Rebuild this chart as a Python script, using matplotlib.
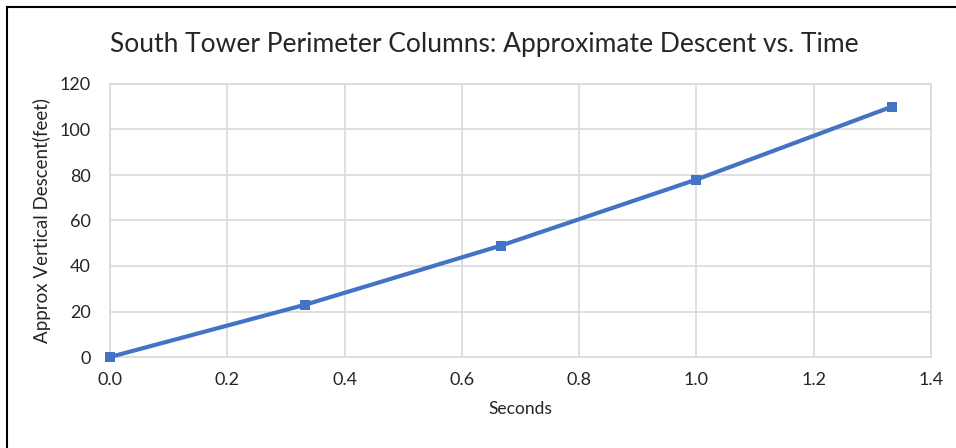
import matplotlib
matplotlib.use("Agg")
import matplotlib.pyplot as plt
from matplotlib.lines import Line2D

seconds = [0.0, 0.333, 0.667, 1.0, 1.333]
descent_ft = [0, 23, 49, 78, 110]
x_ticks = [0.0, 0.2, 0.4, 0.6, 0.8, 1.0, 1.2, 1.4]
y_ticks = [0, 20, 40, 60, 80, 100, 120]

plt.rcParams["font.family"] = ["Lato", "DejaVu Sans"]
TEXT = "#262626"
GRID = "#D9D9D9"
BLUE = "#4472C4"

fig = plt.figure(figsize=(9.56, 4.48), dpi=100)
ax = fig.add_axes([110 / 956, 1 - 357 / 448, 821 / 956, 273 / 448])

ax.plot(seconds, descent_ft, color=BLUE, linewidth=3, marker="s",
        markersize=7.5, markeredgewidth=0, solid_capstyle="butt",
        clip_on=False, zorder=3)

ax.set_xlim(0, 1.4)
ax.set_ylim(0, 120)
ax.set_xticks(x_ticks)
ax.set_xticklabels([f"{v:.1f}" for v in x_ticks])
ax.set_yticks(y_ticks)
ax.grid(True, color=GRID, linewidth=1.2)
ax.set_axisbelow(True)
for s in ax.spines.values():
    s.set_color(GRID)
    s.set_linewidth(1.2)
ax.tick_params(length=0, labelsize=13, colors=TEXT, pad=11)
ax.tick_params(axis="y", pad=14)

ax.set_xlabel("Seconds", fontsize=12.5, color=TEXT, labelpad=9)
ax.set_ylabel("Approx Vertical Descent(feet)", fontsize=13.5, color=TEXT, labelpad=6)
fig.text(0.507, 0.9, "South Tower Perimeter Columns: Approximate Descent vs. Time",
         ha="center", va="center", fontsize=19, color=TEXT)

# chart frame (left and top edges visible in the original)
fig.add_artist(Line2D([7 / 956, 7 / 956], [0, 1 - 7 / 448], color="black", linewidth=1.5,
                      transform=fig.transFigure))
fig.add_artist(Line2D([7 / 956, 1], [1 - 7 / 448, 1 - 7 / 448], color="black", linewidth=1.5,
                      transform=fig.transFigure))

fig.savefig("out.png", dpi=100)
